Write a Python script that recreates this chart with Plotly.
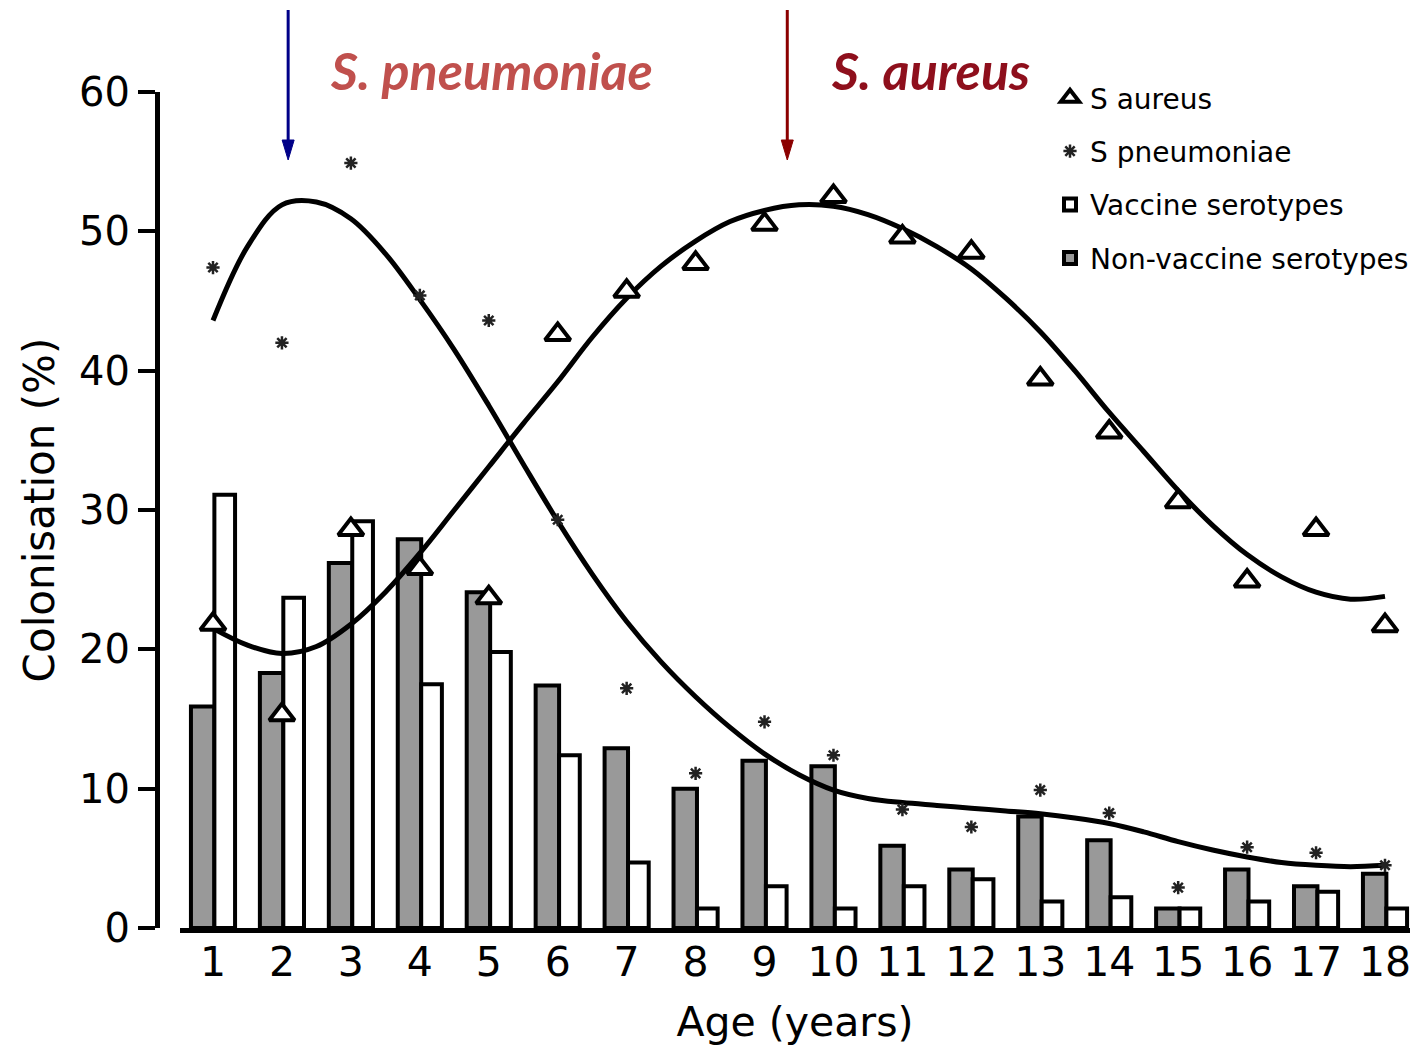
import plotly.graph_objects as go

# ---------------- data ----------------
ages = list(range(1, 19))
tick_labels = [str(a) for a in ages]

non_vaccine = [15.9, 18.3, 26.2, 27.9, 24.1, 17.4, 12.9, 10.0, 12.0, 11.6,
               5.9, 4.2, 8.0, 6.3, 1.4, 4.2, 3.0, 3.9]
vaccine = [31.1, 23.7, 29.2, 17.5, 19.8, 12.4, 4.7, 1.4, 3.0, 1.4,
           3.0, 3.5, 1.9, 2.2, 1.4, 1.9, 2.6, 1.4]

s_aureus = [21.8, 15.3, 28.6, 25.8, 23.7, 42.6, 45.7, 47.7, 50.5, 52.5,
            49.6, 48.5, 39.4, 35.6, 30.6, 24.9, 28.6, 21.7]
s_pneumo = [47.4, 42.0, 54.9, 45.4, 43.6, 29.3, 17.2, 11.1, 14.8, 12.4,
            8.5, 7.25, 9.9, 8.25, 2.9, 5.8, 5.4, 4.5]

# fitted curves
fit_x = [1, 1.5, 2, 2.5, 3, 3.5, 4, 4.5, 5, 5.5, 6, 6.5, 7, 7.5, 8, 8.5, 9, 9.5,
         10, 10.5, 11, 11.5, 12, 12.5, 13, 13.5, 14, 14.5, 15, 15.5, 16, 16.5,
         17, 17.5, 18]
pneumo_fit = [43.6, 48.9, 51.9, 52.1, 50.9, 48.4, 45.1, 41.5, 37.5, 33.3, 29.2,
              25.4, 22.0, 19.1, 16.6, 14.4, 12.5, 11.0, 9.9, 9.3, 9.0, 8.8,
              8.6, 8.4, 8.2, 7.9, 7.5, 6.9, 6.2, 5.6, 5.1, 4.7, 4.5, 4.4, 4.5]
aureus_fit = [21.5, 20.3, 19.7, 20.2, 21.8, 24.1, 26.9, 30.0, 33.1, 36.2, 39.2,
              42.4, 45.2, 47.5, 49.3, 50.7, 51.5, 51.9, 51.8, 51.2, 50.2, 48.9,
              47.3, 45.2, 42.8, 40.0, 37.0, 34.2, 31.4, 28.9, 26.8, 25.2, 24.1,
              23.6, 23.8]

arrow_x = [2.09, 9.33]
arrow_colors = ["#000088", "#8B0000"]
labels_top = ["S. pneumoniae", "S. aureus"]
label_colors = ["#C0504D", "#8E0F1C"]

# ---------------- figure ----------------
FONT = "DejaVu Sans"
fig = go.Figure()

fig.add_trace(go.Bar(
    x=ages, y=non_vaccine, name="Non-vaccine serotypes",
    marker=dict(color="#999999", line=dict(color="black", width=4)),
    width=0.34, offset=-0.32, legendgroup="n", legendrank=4))
fig.add_trace(go.Bar(
    x=ages, y=vaccine, name="Vaccine serotypes",
    marker=dict(color="white", line=dict(color="black", width=4)),
    width=0.30, offset=0.02, legendgroup="v", legendrank=3))

fig.add_trace(go.Scatter(
    x=fit_x, y=pneumo_fit, mode="lines", line=dict(color="black", width=5, shape="spline"),
    showlegend=False, hoverinfo="skip"))
fig.add_trace(go.Scatter(
    x=fit_x, y=aureus_fit, mode="lines", line=dict(color="black", width=5, shape="spline"),
    showlegend=False, hoverinfo="skip"))

fig.add_trace(go.Scatter(
    x=ages, y=s_aureus, mode="markers", name="S aureus",
    marker=dict(symbol="triangle-up", color="white", size=22,
                line=dict(color="black", width=4)),
    legendgroup="a", legendrank=1, cliponaxis=False))
fig.add_trace(go.Scatter(
    x=ages, y=s_pneumo, mode="markers", name="S pneumoniae",
    marker=dict(symbol="asterisk-open", color="#222222", size=11,
                line=dict(color="#222222", width=2.5)),
    legendgroup="p", legendrank=2, cliponaxis=False))

# plot area geometry in pixels
W, H = 1420, 1056
L, R, T, B = 157, 10, 92, 128
pw = W - L - R
ph = H - T - B

def px_to_paper_x(px):
    return (px - L) / pw

def px_to_paper_y(py):
    return (H - B - py) / ph

shapes = []
for ax_x, col in zip(arrow_x, arrow_colors):
    shapes.append(dict(type="line", xref="x", yref="paper", x0=ax_x, x1=ax_x,
                       y0=px_to_paper_y(10), y1=px_to_paper_y(150),
                       line=dict(color=col, width=3)))
    shapes.append(dict(type="path", xref="x", yref="paper",
                       xsizemode="pixel", ysizemode="pixel",
                       xanchor=ax_x, yanchor=px_to_paper_y(160),
                       path="M-6,20 L6,20 L0,0 Z",
                       fillcolor=col, line=dict(color=col, width=1)))

annotations = []
for txt, col, cx in zip(labels_top, label_colors, [491, 930]):
    annotations.append(dict(
        text=txt, xref="paper", yref="paper", x=px_to_paper_x(cx), y=px_to_paper_y(70),
        xanchor="center", yanchor="middle", showarrow=False,
        font=dict(family="Lato", size=52, color=col, weight="bold", style="italic")))

fig.update_layout(
    width=W, height=H,
    margin=dict(l=L, r=R, t=T, b=B, autoexpand=False),
    paper_bgcolor="white", plot_bgcolor="white",
    barmode="overlay",
    font=dict(family=FONT, color="black"),
    shapes=shapes, annotations=annotations,
    showlegend=True,
    legend=dict(x=px_to_paper_x(1050), y=px_to_paper_y(73), xanchor="left", yanchor="top",
                font=dict(family=FONT, size=28, color="black"),
                tracegroupgap=14, traceorder="grouped",
                bgcolor="rgba(0,0,0,0)", borderwidth=0),
    xaxis=dict(domain=[px_to_paper_x(180), 1], range=[0.5213, 18.3626],
               tickmode="array", tickvals=ages, ticktext=tick_labels,
               ticks="", showline=True, linecolor="black", linewidth=5,
               showgrid=False, zeroline=False, ticklabelstandoff=-6,
               tickfont=dict(family=FONT, size=41, color="black"),
               title=dict(text="Age (years)", font=dict(family=FONT, size=41, color="black"),
                          standoff=24)),
    yaxis=dict(anchor="free", position=0, range=[0, 60],
               tickmode="array", tickvals=[0, 10, 20, 30, 40, 50, 60],
               ticks="outside", ticklen=17, tickwidth=4, tickcolor="black",
               showline=True, linecolor="black", linewidth=5,
               showgrid=False, zeroline=False,
               tickfont=dict(family=FONT, size=40, color="black"),
               title=dict(text="Colonisation (%)", font=dict(family=FONT, size=42, color="black"),
                          standoff=10)),
)

fig.write_html("out.html")
